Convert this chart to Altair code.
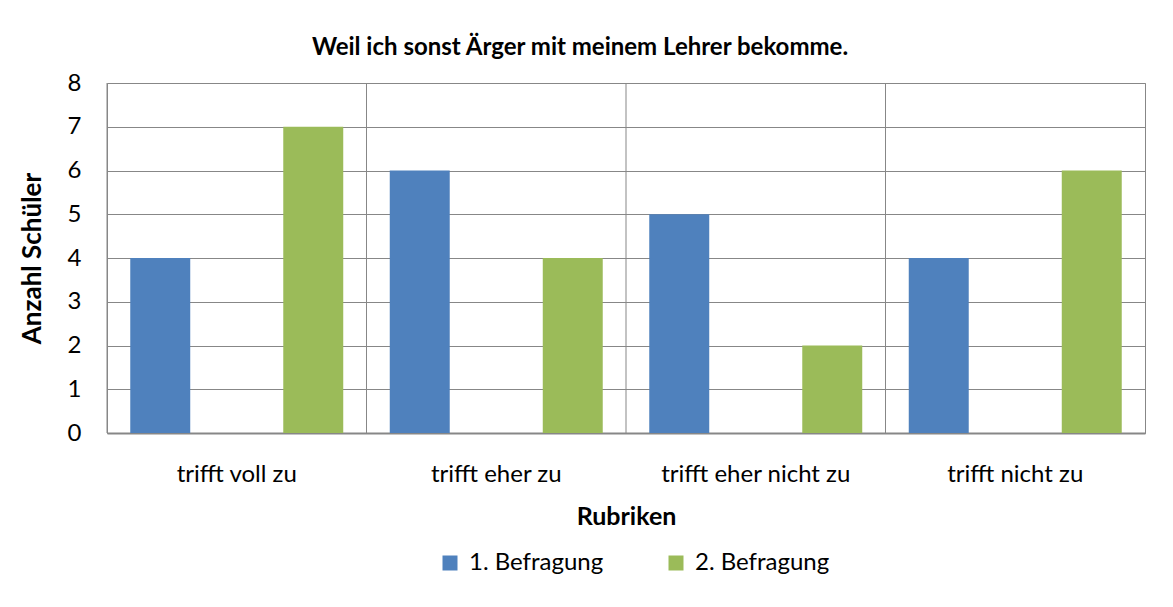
import altair as alt
import pandas as pd

categories = ["trifft voll zu", "trifft eher zu", "trifft eher nicht zu", "trifft nicht zu"]
series_names = ["1. Befragung", "2. Befragung"]
befragung1 = [4, 6, 5, 4]
befragung2 = [7, 4, 2, 6]
colors = ["#4F81BD", "#9BBB59"]

rows = []
for c, v1, v2 in zip(categories, befragung1, befragung2):
    rows.append({"Rubrik": c, "Serie": series_names[0], "Wert": v1})
    rows.append({"Rubrik": c, "Serie": series_names[1], "Wert": v2})
df = pd.DataFrame(rows)
grid_df = pd.DataFrame({"Rubrik": categories})

FONT = "Lato"
GRID = "#878787"

x_scale = alt.Scale(domain=categories, paddingInner=0, paddingOuter=0)
x_axis = alt.Axis(title="Rubriken", labelAngle=0, ticks=False, grid=False,
                  bandPosition=0.5, labelLimit=400,
                  domainColor=GRID, domainWidth=2,
                  labelFontSize=24, labelFont=FONT, labelColor="#000000",
                  labelPadding=29,
                  titleFont=FONT, titleFontSize=25, titleFontWeight="bold",
                  titleColor="#000000", titlePadding=18)

bars = alt.Chart(df).mark_bar().encode(
    x=alt.X("Rubrik:N", scale=x_scale, sort=categories, axis=x_axis),
    xOffset=alt.XOffset("Serie:N", scale=alt.Scale(domain=series_names,
                                                   paddingInner=0.608, paddingOuter=0.152)),
    y=alt.Y("Wert:Q", scale=alt.Scale(domain=[0, 8], nice=False),
            axis=alt.Axis(title="Anzahl Schüler", values=list(range(0, 9)), ticks=False,
                          grid=True, gridColor=GRID, gridWidth=1, domain=False,
                          labelFontSize=24, labelFont=FONT, labelColor="#000000",
                          labelPadding=26,
                          titleFont=FONT, titleFontSize=26, titleFontWeight="bold",
                          titleColor="#000000", titlePadding=22)),
    color=alt.Color("Serie:N", scale=alt.Scale(domain=series_names, range=colors),
                    legend=alt.Legend(title=None, orient="none", direction="horizontal",
                                      legendX=331, legendY=468,
                                      symbolType="square", symbolSize=225,
                                      symbolStrokeWidth=0, symbolOpacity=1,
                                      labelFont=FONT, labelFontSize=24, labelColor="#000000",
                                      columnPadding=60, labelOffset=7, padding=0)),
)

vgrid = alt.Chart(grid_df).mark_rule(color=GRID, strokeWidth=1).encode(
    x=alt.X("Rubrik:N", scale=x_scale, sort=categories, bandPosition=0, axis=x_axis)
)

chart = alt.layer(bars, vgrid).properties(
    width=1038, height=350,
    autosize=alt.AutoSizeParams(type="none"),
    padding={"left": 99, "top": 75, "right": 12, "bottom": 150},
    title=alt.TitleParams("Weil ich sonst Ärger mit meinem Lehrer bekomme.",
                          font=FONT, fontSize=24, fontWeight="bold", color="#000000",
                          anchor="middle", dx=-46, offset=11),
).configure_view(stroke=GRID, strokeWidth=1)

chart.save("out.html", embed_options={"renderer": "svg", "actions": False})
